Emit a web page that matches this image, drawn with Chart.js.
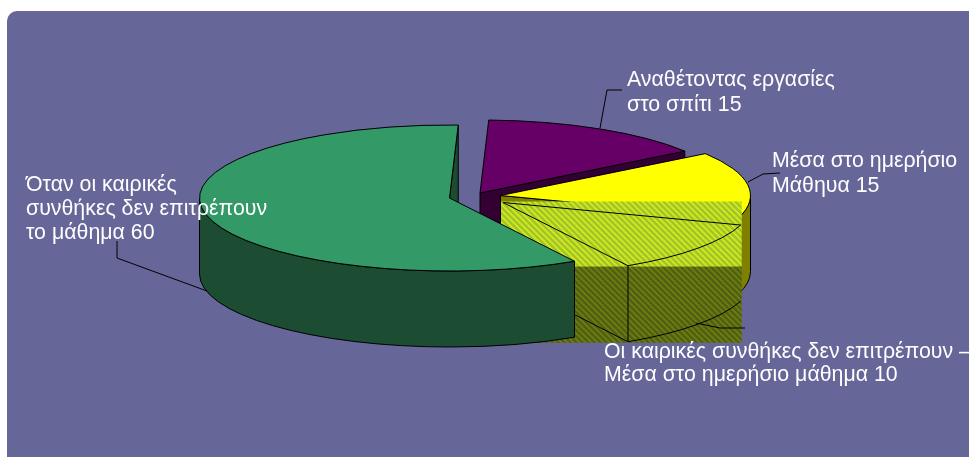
<!DOCTYPE html>
<html lang="el">
<head>
<meta charset="utf-8">
<style>html,body{margin:0;padding:0;background:#fff;overflow:hidden}canvas{display:block}</style>
<script src="https://cdn.jsdelivr.net/npm/chart.js@4"></script>
</head>
<body>
<canvas id="c" width="969" height="457"></canvas>
<script>
const categories = ['Αναθέτοντας εργασίες στο σπίτι', 'Μέσα στο ημερήσιο Μάθηυα', 'Οι καιρικές συνθήκες δεν επιτρέπουν – Μέσα στο ημερήσιο μάθημα', 'Όταν οι καιρικές συνθήκες δεν επιτρέπουν το μάθημα'];
const values = [15, 15, 10, 60];
const topColors = ['#660066', '#ffff00', '#ccee33', '#339966'];
const wallColors = ['#330033', '#808000', '#667711', '#1c4d33'];
const labelLines = [
  ['Αναθέτοντας εργασίες', 'στο σπίτι 15'],
  ['Μέσα στο ημερήσιο', 'Μάθηυα 15'],
  ['Οι καιρικές συνθήκες δεν επιτρέπουν –', 'Μέσα στο ημερήσιο μάθημα 10'],
  ['Όταν οι καιρικές', 'συνθήκες δεν επιτρέπουν', 'το μάθημα 60']
];
// layout of the tilted, exploded pie
const explode = [[-4.5, -35.5], [16, -33], [18.5, -26], [-35, -30.5]];
const perspective = [0, -1, -2, 4];   // degrees added to each slice's start boundary on screen
const squash = 0.292, depth = 76, rad = Math.PI / 180;
const labelPos = [[627, 86, 25], [772, 167, 25], [604, 358, 23], [26, 191, 24]];
const leaders = [
  [[600, 128], [607, 90], [622, 90]],
  [[748, 182], [763, 174], [780, 173]],
  [[696, 323], [720, 328], [745, 328]],
  [[207, 291], [117, 258], [117, 241]]
];

function stripes(a, b) {
  const p = document.createElement('canvas'); p.width = p.height = 6;
  const x = p.getContext('2d');
  x.fillStyle = a; x.fillRect(0, 0, 6, 6);
  x.strokeStyle = b; x.lineWidth = 2.4;
  [-6, 0, 6].forEach(o => { x.beginPath(); x.moveTo(o - 1, -1); x.lineTo(o + 7, 7); x.stroke(); });
  return p;
}

const pie3d = {
  id: 'pie3d',
  beforeDraw(chart) {
    const c = chart.ctx;
    c.save();
    c.fillStyle = '#666699';
    c.beginPath();
    c.roundRect(7, 11, chart.width + 20, chart.height + 20, 10);
    c.fill();
    c.restore();
  },
  beforeDatasetsDraw(chart) {
    const c = chart.ctx;
    const arcs = chart.getDatasetMeta(0).data;
    const R = arcs[0].outerRadius;
    const geo = arcs.map((a, i) => ({
      arc: a, x: a.x + explode[i][0], y: a.y + explode[i][1],
      t0: a.startAngle + perspective[i] * rad,
      t1: a.endAngle + perspective[(i + 1) % arcs.length] * rad
    }));
    const pt = (g, t, d = 0) => [g.x + R * Math.cos(t), g.y + R * squash * Math.sin(t) + d];
    const rim = (g, t0, t1, d = 0) => c.ellipse(g.x, g.y + d, R, R * squash, 0, t0, t1, t1 < t0);
    c.save();
    c.strokeStyle = '#000';
    c.lineWidth = 1;
    const wedge = g => { c.beginPath(); c.moveTo(g.x, g.y); rim(g, g.t0, g.t1); c.closePath(); };
    const top = g => {
      const a = g.arc, s = [a.x, a.y, a.startAngle, a.endAngle, a.circumference];
      c.save();
      c.translate(g.x, g.y);
      c.scale(1, squash);
      a.x = 0; a.y = 0; a.startAngle = g.t0; a.endAngle = g.t1; a.circumference = g.t1 - g.t0;
      a.draw(c);
      [a.x, a.y, a.startAngle, a.endAngle, a.circumference] = s;
      c.restore();
      wedge(g);
      c.stroke();
    };
    const radial = (g, t, color) => {
      const p = pt(g, t);
      c.beginPath();
      c.moveTo(g.x, g.y); c.lineTo(p[0], p[1]); c.lineTo(p[0], p[1] + depth); c.lineTo(g.x, g.y + depth); c.closePath();
      c.fillStyle = color; c.fill(); c.stroke();
    };
    const rimWall = (g, color) => {
      const TAU = Math.PI * 2;
      let a0 = g.t0, a1 = g.t1;
      while (a1 > TAU) { a0 -= TAU; a1 -= TAU; }
      const lo = Math.max(a0, 0), hi = Math.min(a1, Math.PI);
      if (hi <= lo) return;
      c.beginPath();
      rim(g, lo, hi);
      rim(g, hi, lo, depth);
      c.closePath();
      c.fillStyle = color; c.fill(); c.stroke();
    };
    const [p, y, w, g] = geo;
    // back slice
    radial(p, p.t1, wallColors[0]);
    top(p);
    // yellow slice
    radial(y, y.t1, wallColors[1]);
    rimWall(y, wallColors[1]);
    top(y);
    // hatched slice with its block of pattern
    top(w);
    const e0 = pt(w, w.t0), e1 = pt(w, w.t1);
    const left = w.x - 2, right = e0[0] + 1, up = w.y - 1, mid = e1[1] + 1, low = mid + depth;
    c.fillStyle = c.createPattern(stripes('#d2e81e', '#a0c42a'), 'repeat');
    c.fillRect(left, up, right - left, mid - up);
    c.fillStyle = c.createPattern(stripes('#6f7d0c', '#4f5f16'), 'repeat');
    c.fillRect(left, mid, right - left, low - mid);
    wedge(w); c.stroke();
    c.beginPath();
    c.moveTo(w.x, w.y + depth); c.lineTo(e1[0], e1[1] + depth); c.lineTo(e1[0], e1[1]);
    c.moveTo(e1[0], e1[1] + depth);
    rim(w, w.t1, w.t0, depth);
    c.stroke();
    // big slice
    radial(g, g.t1, wallColors[3]);
    rimWall(g, wallColors[3]);
    top(g);
    // leader lines
    leaders.forEach(l => {
      c.beginPath();
      l.forEach((q, k) => k ? c.lineTo(q[0], q[1]) : c.moveTo(q[0], q[1]));
      c.stroke();
    });
    // labels
    c.fillStyle = '#ffffff';
    c.font = '21.33px "Liberation Sans", Arial, sans-serif';
    c.textBaseline = 'alphabetic';
    labelLines.forEach((lines, i) => lines.forEach((s, k) => {
      c.fillText(s, labelPos[i][0], labelPos[i][1] + k * labelPos[i][2]);
    }));
    c.restore();
    return false;
  }
};

new Chart(document.getElementById('c'), {
  type: 'pie',
  data: {
    labels: categories,
    datasets: [{ data: values, backgroundColor: topColors, borderWidth: 0 }]
  },
  options: {
    responsive: false,
    animation: false,
    rotation: 2,
    radius: 250,
    events: [],
    plugins: { legend: { display: false }, tooltip: { enabled: false } }
  },
  plugins: [pie3d]
});
</script>
</body>
</html>
